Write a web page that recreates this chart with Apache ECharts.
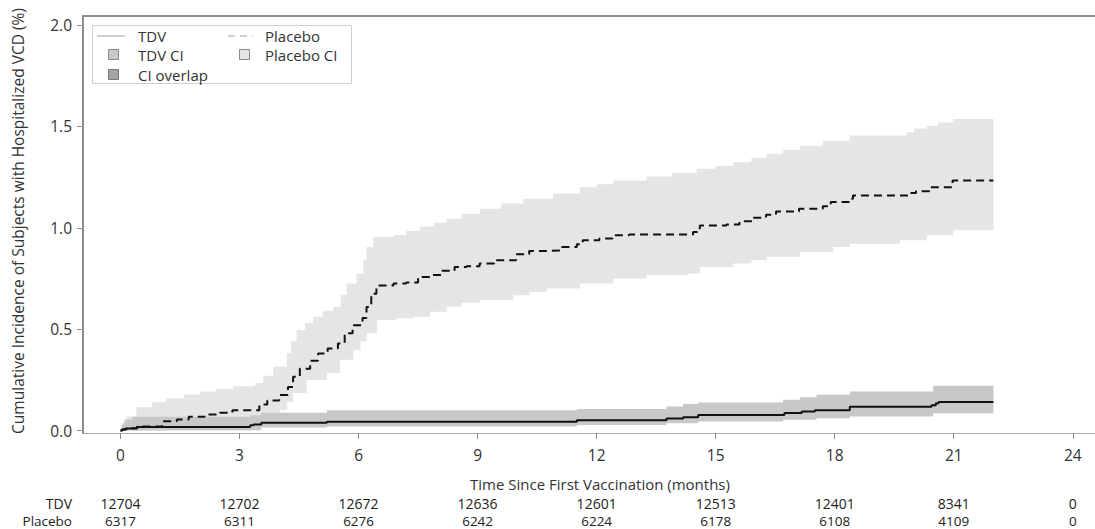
<!DOCTYPE html>
<html><head><meta charset="utf-8">
<script src="https://cdn.jsdelivr.net/npm/echarts@6/dist/echarts.min.js"></script>
<style>html,body{margin:0;padding:0;background:#fff}#c{width:1095px;height:529px}</style>
</head><body><div id="c"></div>
<script>
// ---- tick labels / table ----
const xTicks = [0, 3, 6, 9, 12, 15, 18, 21, 24];
const yTicks = [0, 0.5, 1.0, 1.5, 2.0];
const riskTDV = [12704, 12702, 12672, 12636, 12601, 12513, 12401, 8341, 0];
const riskPlacebo = [6317, 6311, 6276, 6242, 6224, 6178, 6108, 4109, 0];

// ---- series: [month, cumulative incidence %] ----
const placeboCurve = [[0,0],[0.05,0.005],[0.15,0.01],[0.42,0.02],[1.05,0.046],[1.42,0.054],[1.72,0.068],[2.12,0.079],[2.5,0.088],[2.82,0.10],[3.5,0.128],[3.7,0.148],[4.0,0.175],[4.22,0.215],[4.35,0.265],[4.52,0.305],[4.78,0.345],[4.98,0.38],[5.22,0.405],[5.48,0.43],[5.65,0.48],[5.85,0.52],[6.1,0.555],[6.2,0.61],[6.32,0.675],[6.45,0.715],[6.88,0.726],[7.2,0.731],[7.5,0.758],[7.8,0.767],[8.08,0.788],[8.42,0.807],[8.72,0.811],[9.05,0.824],[9.42,0.84],[9.97,0.87],[10.3,0.886],[10.72,0.889],[11.1,0.906],[11.5,0.919],[11.65,0.939],[12.07,0.947],[12.4,0.963],[12.82,0.967],[14.43,0.979],[14.6,1.012],[15.27,1.017],[15.6,1.032],[15.93,1.05],[16.27,1.065],[16.52,1.081],[17.1,1.094],[17.7,1.106],[17.9,1.127],[18.36,1.143],[18.46,1.16],[19.88,1.172],[20.05,1.181],[20.38,1.2],[20.97,1.233],[22.0,1.233]];
const placeboUpper = [[0,0],[0.05,0.04],[0.15,0.07],[0.4,0.115],[0.8,0.14],[1.15,0.16],[1.6,0.178],[2.0,0.193],[2.4,0.205],[2.84,0.218],[3.4,0.235],[3.6,0.27],[3.85,0.316],[4.19,0.382],[4.3,0.44],[4.44,0.496],[4.65,0.53],[4.86,0.562],[5.1,0.59],[5.36,0.611],[5.55,0.67],[5.7,0.726],[5.95,0.775],[6.12,0.84],[6.2,0.906],[6.37,0.955],[6.88,0.965],[7.2,0.985],[7.55,1.007],[7.9,1.025],[8.22,1.045],[8.6,1.07],[9.06,1.094],[9.6,1.12],[10.15,1.143],[10.9,1.17],[11.58,1.2],[12.0,1.215],[12.42,1.233],[13.26,1.253],[13.9,1.27],[14.52,1.291],[15.0,1.305],[15.44,1.323],[15.9,1.345],[16.29,1.365],[16.7,1.385],[17.12,1.405],[17.7,1.43],[18.38,1.455],[19.81,1.471],[20.0,1.49],[20.32,1.504],[20.6,1.52],[20.99,1.537],[22.0,1.537]];
const placeboLower = [[0,0],[1.0,0.003],[2.0,0.01],[3.0,0.02],[3.5,0.04],[3.8,0.07],[4.02,0.103],[4.2,0.14],[4.35,0.185],[4.69,0.25],[5.2,0.284],[5.53,0.349],[5.87,0.398],[6.05,0.44],[6.2,0.48],[6.46,0.545],[6.96,0.554],[7.38,0.562],[7.8,0.586],[8.22,0.611],[8.6,0.63],[9.06,0.644],[9.9,0.668],[10.3,0.685],[10.74,0.701],[11.58,0.726],[12.42,0.75],[13.26,0.767],[14.3,0.775],[14.6,0.807],[15.44,0.824],[15.9,0.84],[16.29,0.857],[17.12,0.881],[17.96,0.906],[18.38,0.922],[19.64,0.939],[20.32,0.963],[20.99,0.988],[22.0,0.988]];
const tdvCurve = [[0,0],[0.03,0.005],[0.12,0.01],[0.25,0.013],[0.42,0.018],[3.27,0.026],[3.35,0.03],[3.55,0.038],[5.2,0.043],[11.5,0.051],[13.76,0.059],[14.18,0.066],[14.56,0.077],[16.73,0.087],[17.17,0.094],[17.5,0.1],[18.38,0.117],[20.44,0.125],[20.55,0.135],[20.62,0.141],[22.0,0.141]];
const tdvUpper = [[0,0],[0.03,0.03],[0.1,0.055],[0.3,0.068],[3.27,0.075],[3.55,0.088],[5.2,0.1],[11.5,0.107],[13.76,0.119],[14.18,0.131],[14.56,0.138],[16.7,0.152],[17.12,0.164],[17.54,0.177],[18.38,0.193],[20.48,0.221],[22.0,0.221]];
const tdvLower = [[0,0],[3.3,0.002],[3.55,0.015],[5.2,0.02],[11.5,0.028],[13.76,0.036],[14.56,0.045],[16.7,0.053],[17.54,0.061],[18.38,0.069],[20.48,0.085],[22.0,0.085]];

const FONT = 'Open Sans';
const TXT = '#333';
const AX = '#8c8c8c';

function stepPts(api, arr) {
  const out = [];
  for (let i = 0; i < arr.length; i++) {
    if (i > 0) out.push(api.coord([arr[i][0], arr[i - 1][1]]));
    out.push(api.coord(arr[i]));
  }
  return out;
}
function band(name, upper, lower, color) {
  return {
    type: 'custom', name, silent: true, z: 1,
    data: [[upper[0][0], upper[0][1]]],
    renderItem: function (params, api) {
      const up = stepPts(api, upper);
      const lo = stepPts(api, lower).reverse();
      return { type: 'polygon', shape: { points: up.concat(lo) }, style: { fill: color } };
    }
  };
}

const chart = echarts.init(document.getElementById('c'), null, { renderer: 'svg' });
const baseX = { type: 'value', min: -0.945, max: 24.56, splitLine: { show: false } };
chart.setOption({
  animation: false,
  textStyle: { fontFamily: FONT },
  grid: { left: 83, right: 0, top: 16, bottom: 96 },
  xAxis: [
    Object.assign({}, baseX, {
      position: 'bottom',
      axisLine: { show: true, onZero: false, lineStyle: { color: '#a8a8a8', width: 1 } },
      axisTick: { show: true, customValues: xTicks, length: 6, lineStyle: { color: AX } },
      axisLabel: { customValues: xTicks, fontSize: 15.5, color: TXT, margin: 22, verticalAlign: 'middle', fontFamily: FONT }
    }),
    Object.assign({}, baseX, {
      position: 'top',
      axisLine: { show: true, onZero: false, lineStyle: { color: AX, width: 2 } },
      axisTick: { show: false }, axisLabel: { show: false }
    }),
    Object.assign({}, baseX, {
      position: 'bottom', offset: 70.5,
      axisLine: { show: false, onZero: false }, axisTick: { show: false },
      axisLabel: { customValues: xTicks, fontSize: 14, color: '#222', margin: 0, verticalAlign: 'middle', fontFamily: FONT,
        formatter: v => String(riskTDV[xTicks.indexOf(v)]) }
    }),
    Object.assign({}, baseX, {
      position: 'bottom', offset: 88,
      axisLine: { show: false, onZero: false }, axisTick: { show: false },
      axisLabel: { customValues: xTicks, fontSize: 13.5, color: '#222', margin: 0, verticalAlign: 'middle', fontFamily: FONT,
        formatter: v => String(riskPlacebo[xTicks.indexOf(v)]) }
    })
  ],
  yAxis: {
    type: 'value', min: -0.012, max: 2.045, splitLine: { show: false },
    axisLine: { show: true, onZero: false, lineStyle: { color: AX, width: 2 } },
    axisTick: { show: true, customValues: yTicks, length: 6, lineStyle: { color: AX } },
    axisLabel: { customValues: yTicks, fontSize: 15.5, color: TXT, margin: 11, fontFamily: FONT, formatter: v => v.toFixed(1) }
  },
  series: [
    band('Placebo CI', placeboUpper, placeboLower, '#e5e5e5'),
    band('TDV CI', tdvUpper, tdvLower, '#c8c8c8'),
    { type: 'line', name: 'Placebo', data: placeboCurve, step: 'end', showSymbol: false, z: 3,
      lineStyle: { color: '#111', width: 2, type: [8, 5] } },
    { type: 'line', name: 'TDV', data: tdvCurve, step: 'end', showSymbol: false, z: 3,
      lineStyle: { color: '#111', width: 2 } }
  ],
  graphic: [
    { type: 'text', x: 18, y: 221, rotation: Math.PI / 2,
      style: { text: 'Cumulative Incidence of Subjects with Hospitalized VCD (%)', fontSize: 15.5, fontFamily: FONT, fill: TXT, align: 'center', verticalAlign: 'middle' } },
    { type: 'text', x: 600, y: 483.5,
      style: { text: 'Time Since First Vaccination (months)', fontSize: 15, fontFamily: FONT, fill: TXT, align: 'center', verticalAlign: 'middle' } },
    { type: 'text', x: 72, y: 503.5, style: { text: 'TDV', fontSize: 14, fontFamily: FONT, fill: '#222', align: 'right', verticalAlign: 'middle' } },
    { type: 'text', x: 72, y: 521, style: { text: 'Placebo', fontSize: 13.5, fontFamily: FONT, fill: '#222', align: 'right', verticalAlign: 'middle' } },
    // legend
    { type: 'rect', shape: { x: 92.5, y: 25.5, width: 259, height: 58 }, style: { fill: '#fff', stroke: '#cfcfcf', lineWidth: 1 }, z: 10 },
    { type: 'line', shape: { x1: 97, y1: 36, x2: 125, y2: 36 }, style: { stroke: '#a0a0a0', lineWidth: 1 }, z: 11 },
    { type: 'text', x: 138, y: 36, style: { text: 'TDV', fontSize: 15, fontFamily: FONT, fill: TXT, verticalAlign: 'middle' }, z: 11 },
    { type: 'line', shape: { x1: 228, y1: 36, x2: 253, y2: 36 }, style: { stroke: '#a0a0a0', lineWidth: 1, lineDash: [7, 5] }, z: 11 },
    { type: 'text', x: 265, y: 36, style: { text: 'Placebo', fontSize: 15, fontFamily: FONT, fill: TXT, verticalAlign: 'middle' }, z: 11 },
    { type: 'rect', shape: { x: 108.5, y: 49.5, width: 10, height: 10 }, style: { fill: '#c8c8c8', stroke: '#8a8a8a', lineWidth: 1 }, z: 11 },
    { type: 'text', x: 138, y: 55, style: { text: 'TDV CI', fontSize: 15, fontFamily: FONT, fill: TXT, verticalAlign: 'middle' }, z: 11 },
    { type: 'rect', shape: { x: 239.5, y: 49.5, width: 10, height: 10 }, style: { fill: '#e5e5e5', stroke: '#8a8a8a', lineWidth: 1 }, z: 11 },
    { type: 'text', x: 265, y: 55, style: { text: 'Placebo CI', fontSize: 15, fontFamily: FONT, fill: TXT, verticalAlign: 'middle' }, z: 11 },
    { type: 'rect', shape: { x: 108.5, y: 69.5, width: 10, height: 10 }, style: { fill: '#a4a4a4', stroke: '#7a7a7a', lineWidth: 1 }, z: 11 },
    { type: 'text', x: 138, y: 74.5, style: { text: 'CI overlap', fontSize: 15, fontFamily: FONT, fill: TXT, verticalAlign: 'middle' }, z: 11 }
  ]
});
</script></body></html>
